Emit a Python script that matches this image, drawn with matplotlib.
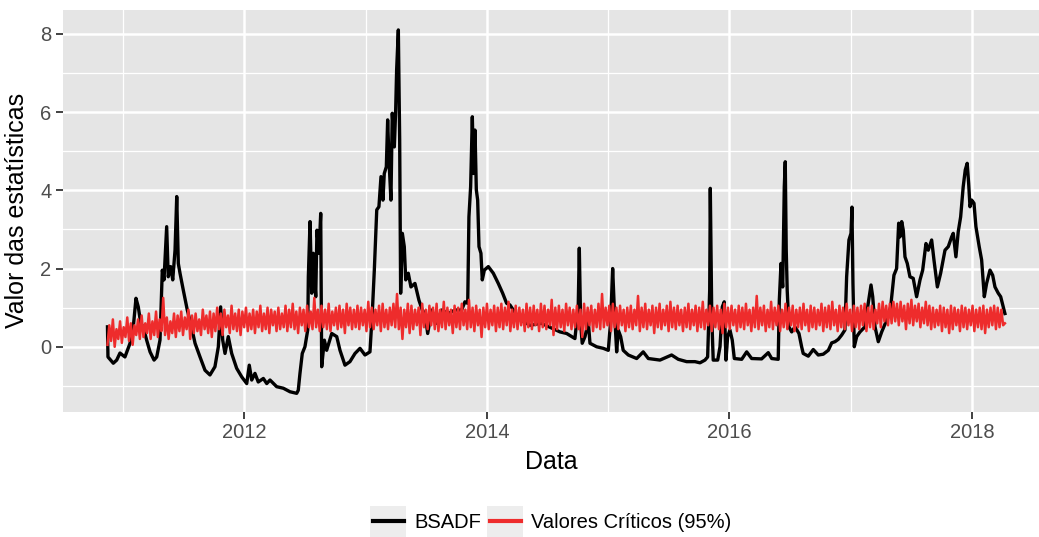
import numpy as np
import matplotlib
matplotlib.use("Agg")
import matplotlib.pyplot as plt
from matplotlib.patches import Rectangle

plt.rcParams['font.family'] = ['Liberation Sans', 'DejaVu Sans']

# BSADF statistic (decimal year, value)
bsadf_t = [
    2010.872, 2010.876, 2010.920, 2010.948, 2010.975, 2011.016, 2011.058, 2011.085, 2011.107, 2011.126,
    2011.146, 2011.167, 2011.195, 2011.223, 2011.256, 2011.278, 2011.305, 2011.324, 2011.338, 2011.360,
    2011.373, 2011.393, 2011.410, 2011.429, 2011.443, 2011.456, 2011.470, 2011.497, 2011.530, 2011.558,
    2011.594, 2011.635, 2011.676, 2011.717, 2011.758, 2011.786, 2011.805, 2011.822, 2011.841, 2011.868,
    2011.896, 2011.937, 2011.979, 2012.020, 2012.041, 2012.061, 2012.088, 2012.115, 2012.157, 2012.185,
    2012.212, 2012.267, 2012.322, 2012.377, 2012.432, 2012.445, 2012.459, 2012.478, 2012.500, 2012.523,
    2012.528, 2012.542, 2012.556, 2012.569, 2012.589, 2012.599, 2012.616, 2012.630, 2012.638, 2012.660,
    2012.679, 2012.721, 2012.762, 2012.789, 2012.830, 2012.871, 2012.913, 2012.954, 2012.995, 2013.036,
    2013.055, 2013.072, 2013.092, 2013.110, 2013.127, 2013.143, 2013.154, 2013.171, 2013.182, 2013.193,
    2013.209, 2013.220, 2013.237, 2013.248, 2013.256, 2013.270, 2013.281, 2013.289, 2013.303, 2013.319,
    2013.331, 2013.352, 2013.374, 2013.407, 2013.440, 2013.467, 2013.490, 2013.512, 2013.545, 2013.586,
    2013.627, 2013.682, 2013.737, 2013.792, 2013.819, 2013.842, 2013.852, 2013.866, 2013.880, 2013.891,
    2013.902, 2013.913, 2013.924, 2013.935, 2013.951, 2013.962, 2013.979, 2014.012, 2014.053, 2014.094,
    2014.130, 2014.163, 2014.190, 2014.218, 2014.273, 2014.355, 2014.450, 2014.520, 2014.603, 2014.658,
    2014.726, 2014.753, 2014.762, 2014.773, 2014.786, 2014.809, 2014.836, 2014.850, 2014.905, 2014.960,
    2015.001, 2015.021, 2015.037, 2015.050, 2015.070, 2015.083, 2015.103, 2015.124, 2015.166, 2015.235,
    2015.289, 2015.331, 2015.427, 2015.523, 2015.578, 2015.647, 2015.716, 2015.757, 2015.798, 2015.820,
    2015.825, 2015.837, 2015.842, 2015.854, 2015.866, 2015.903, 2015.922, 2015.941, 2015.957, 2015.971,
    2015.985, 2016.004, 2016.023, 2016.040, 2016.101, 2016.142, 2016.183, 2016.265, 2016.320, 2016.348,
    2016.402, 2016.411, 2016.425, 2016.439, 2016.452, 2016.460, 2016.468, 2016.476, 2016.490, 2016.513,
    2016.540, 2016.573, 2016.595, 2016.608, 2016.650, 2016.691, 2016.732, 2016.773, 2016.815, 2016.843,
    2016.870, 2016.897, 2016.925, 2016.952, 2016.966, 2016.985, 2017.002, 2017.010, 2017.018, 2017.029,
    2017.049, 2017.076, 2017.117, 2017.144, 2017.167, 2017.181, 2017.200, 2017.227, 2017.255, 2017.296,
    2017.329, 2017.356, 2017.378, 2017.395, 2017.406, 2017.420, 2017.433, 2017.447, 2017.466, 2017.488,
    2017.515, 2017.543, 2017.571, 2017.593, 2017.620, 2017.639, 2017.667, 2017.686, 2017.714, 2017.741,
    2017.777, 2017.804, 2017.832, 2017.845, 2017.867, 2017.886, 2017.906, 2017.927, 2017.944, 2017.960,
    2017.972, 2017.983, 2017.997, 2018.016, 2018.032, 2018.059, 2018.079, 2018.101, 2018.120, 2018.148,
    2018.170, 2018.189, 2018.216, 2018.236, 2018.257, 2018.271,
]
bsadf_v = [
    0.51, -0.26, -0.42, -0.34, -0.16, -0.26, 0.09, 0.51, 1.24, 1.02,
    0.60, 0.51, 0.17, -0.13, -0.34, -0.26, 0.17, 1.96, 1.71, 3.07,
    1.79, 2.05, 1.71, 2.47, 3.84, 2.13, 1.88, 1.45, 0.94, 0.60,
    0.09, -0.26, -0.60, -0.72, -0.51, 0.00, 1.02, 0.17, -0.17, 0.26,
    -0.17, -0.55, -0.77, -0.94, -0.47, -0.85, -0.68, -0.90, -0.81, -0.94,
    -0.85, -1.02, -1.06, -1.15, -1.19, -1.11, -0.68, -0.17, 0.00, 0.43,
    1.79, 3.20, 1.37, 2.39, 1.28, 2.98, 2.39, 3.41, -0.51, 0.17,
    -0.09, 0.34, 0.26, -0.09, -0.47, -0.38, -0.17, -0.04, -0.21, -0.13,
    0.85, 1.96, 3.50, 3.58, 4.35, 3.75, 4.43, 4.60, 5.80, 4.77,
    3.75, 5.97, 5.11, 6.05, 7.08, 8.10, 5.29, 1.37, 2.90, 2.56,
    1.71, 1.88, 1.53, 1.62, 1.19, 0.94, 0.85, 0.34, 0.94, 0.60,
    0.94, 0.85, 0.94, 0.94, 1.15, 1.11, 3.32, 4.09, 5.88, 4.43,
    5.54, 4.01, 3.75, 2.56, 2.39, 1.71, 1.96, 2.05, 1.88, 1.62,
    1.37, 1.11, 1.07, 0.94, 0.70, 0.55, 0.60, 0.50, 0.38, 0.34,
    0.21, 1.02, 2.52, 0.60, 0.09, 0.26, 0.64, 0.09, 0.00, -0.04,
    -0.09, 0.68, 2.00, 1.02, -0.13, 0.43, 0.26, -0.09, -0.21, -0.30,
    -0.13, -0.30, -0.34, -0.21, -0.32, -0.38, -0.38, -0.41, -0.34, -0.26,
    0.26, 1.45, 4.05, 0.77, -0.34, -0.34, 0.00, 1.02, 1.15, -0.34,
    0.26, 0.43, 0.17, -0.30, -0.32, -0.13, -0.30, -0.31, -0.15, -0.30,
    -0.32, 1.19, 2.13, 1.53, 4.09, 4.73, 2.47, 1.45, 0.51, 0.38,
    0.51, 0.34, 0.00, -0.17, -0.24, -0.07, -0.21, -0.19, -0.09, 0.10,
    0.13, 0.19, 0.30, 0.43, 1.79, 2.73, 2.90, 3.57, 1.62, 0.00,
    0.26, 0.38, 0.51, 1.11, 1.58, 1.28, 0.51, 0.13, 0.38, 0.68,
    1.02, 1.83, 2.00, 3.16, 2.81, 3.20, 2.98, 2.30, 2.13, 1.79,
    1.75, 1.28, 1.71, 1.96, 2.64, 2.47, 2.73, 2.22, 1.53, 1.88,
    2.47, 2.56, 2.81, 2.90, 2.30, 2.94, 3.32, 4.09, 4.52, 4.69,
    4.18, 3.58, 3.75, 3.67, 3.07, 2.56, 2.22, 1.28, 1.62, 1.96,
    1.83, 1.53, 1.37, 1.28, 1.02, 0.85,
]

# critical values (95%), one value per step between the first and last date
crit_v = [
    0.05, 0.55, 0.15, 0.70, 0.00, 0.45, 0.20, 0.65, 0.10, 0.50, 0.25, 0.75, 0.15, 0.60, 0.05, 0.55, 0.30, 0.70, 0.20, 0.80,
    0.25, 0.60, 0.35, 0.85, 0.20, 0.65, 0.30, 0.90, 0.25, 0.70, 0.40, 1.25, 0.30, 0.75, 0.20, 0.65, 0.35, 0.85, 0.25, 0.80,
    0.40, 0.90, 0.30, 0.75, 0.45, 0.95, 0.20, 0.80, 0.35, 0.85, 0.40, 0.70, 0.30, 0.95, 0.45, 0.80, 0.35, 0.90, 0.25, 0.85,
    0.40, 1.00, 0.45, 0.85, 0.30, 0.95, 0.50, 0.80, 0.35, 1.05, 0.45, 0.85, 0.40, 0.95, 0.30, 0.90, 0.50, 1.00, 0.40, 0.85,
    0.45, 0.95, 0.35, 0.90, 0.50, 1.05, 0.40, 0.85, 0.45, 1.00, 0.35, 0.95, 0.55, 0.90, 0.40, 1.00, 0.45, 0.85, 0.50, 1.05,
    0.40, 0.95, 0.50, 1.10, 0.45, 0.90, 0.35, 1.00, 0.55, 0.95, 0.40, 1.05, 0.50, 0.90, 0.45, 1.25, 0.50, 0.95, 0.40, 1.05,
    0.50, 0.95, 0.45, 1.10, 0.40, 0.90, 0.55, 1.00, 0.45, 1.05, 0.50, 0.95, 0.35, 1.10, 0.55, 1.00, 0.45, 0.95, 0.50, 1.05,
    0.45, 1.00, 0.55, 0.95, 0.40, 1.15, 0.50, 1.00, 0.45, 0.95, 0.55, 1.05, 0.40, 1.10, 0.50, 0.95, 0.45, 1.00, 0.55, 1.10,
    0.50, 1.35, 0.45, 1.00, 0.20, 0.95, 0.50, 1.10, 0.35, 1.05, 0.45, 0.95, 0.55, 1.00, 0.30, 1.10, 0.50, 0.95, 0.45, 1.05,
    0.55, 1.00, 0.45, 1.10, 0.40, 0.95, 0.50, 1.15, 0.45, 1.00, 0.55, 0.95, 0.35, 1.05, 0.50, 1.00, 0.45, 1.10, 0.55, 0.95,
    0.45, 1.20, 0.50, 1.00, 0.40, 1.05, 0.55, 0.95, 0.25, 1.00, 0.50, 1.10, 0.45, 0.95, 0.55, 1.05, 0.40, 1.00, 0.50, 1.10,
    0.45, 1.00, 0.55, 1.15, 0.40, 0.95, 0.50, 1.05, 0.45, 1.00, 0.55, 0.95, 0.40, 1.10, 0.50, 1.00, 0.45, 1.05, 0.55, 0.95,
    0.40, 1.10, 0.50, 1.05, 0.45, 0.95, 0.55, 1.20, 0.30, 1.00, 0.45, 1.05, 0.50, 0.95, 0.40, 1.10, 0.55, 1.00, 0.45, 0.95,
    0.50, 1.05, 0.45, 0.95, 0.25, 1.10, 0.45, 1.00, 0.55, 1.05, 0.40, 0.95, 0.50, 1.10, 0.45, 1.35, 0.50, 1.00, 0.55, 1.05,
    0.40, 1.10, 0.50, 1.00, 0.45, 1.05, 0.55, 0.95, 0.40, 1.00, 0.50, 1.05, 0.45, 0.95, 0.55, 1.30, 0.40, 1.00, 0.50, 1.10,
    0.45, 0.95, 0.55, 1.05, 0.35, 1.00, 0.50, 1.10, 0.45, 0.95, 0.55, 1.05, 0.40, 1.15, 0.50, 1.00, 0.45, 1.05, 0.55, 0.95,
    0.40, 1.00, 0.50, 1.10, 0.45, 0.95, 0.55, 1.05, 0.40, 1.00, 0.50, 1.15, 0.45, 0.95, 0.55, 1.05, 0.40, 1.00, 0.50, 1.05,
    0.45, 0.95, 0.35, 1.10, 0.50, 1.00, 0.45, 1.05, 0.55, 0.95, 0.40, 1.05, 0.50, 1.00, 0.45, 1.10, 0.55, 0.95, 0.40, 1.00,
    0.50, 1.30, 0.45, 1.00, 0.55, 1.05, 0.40, 0.95, 0.50, 1.15, 0.45, 1.00, 0.55, 1.05, 0.40, 0.95, 0.50, 1.10, 0.45, 1.00,
    0.55, 1.05, 0.40, 0.95, 0.50, 1.00, 0.45, 1.10, 0.55, 0.95, 0.40, 1.05, 0.50, 1.00, 0.45, 0.95, 0.55, 1.10, 0.40, 1.00,
    0.50, 1.05, 0.45, 1.15, 0.55, 0.95, 0.40, 1.05, 0.50, 1.00, 0.45, 1.10, 0.55, 0.95, 0.40, 1.05, 0.50, 1.00, 0.45, 1.05,
    0.55, 1.10, 0.40, 1.00, 0.50, 1.05, 0.45, 0.95, 0.60, 1.10, 0.50, 1.15, 0.65, 1.05, 0.55, 1.10, 0.60, 1.15, 0.65, 1.10,
    0.55, 1.15, 0.65, 1.05, 0.45, 1.10, 0.60, 1.20, 0.55, 1.05, 0.65, 1.10, 0.50, 1.00, 0.60, 1.15, 0.55, 1.05, 0.45, 1.00,
    0.50, 0.95, 0.55, 1.05, 0.40, 1.00, 0.50, 0.95, 0.35, 1.05, 0.45, 1.00, 0.55, 0.95, 0.40, 1.05, 0.50, 1.00, 0.45, 0.95,
    0.55, 1.05, 0.40, 0.95, 0.50, 1.00, 0.45, 1.05, 0.35, 0.95, 0.50, 1.00, 0.55, 1.05, 0.45, 1.00, 0.50, 0.95, 0.55, 0.60,
]
crit_t = np.linspace(2010.872, 2018.271, len(crit_v))

series_labels = ['BSADF', 'Valores Críticos (95%)']
x_major = [2012, 2014, 2016, 2018]
y_major = [0, 2, 4, 6, 8]

fig = plt.figure(figsize=(10.39, 5.37), dpi=100)
ax = fig.add_axes([0.0606, 0.2333, 0.9394, 0.7481])
ax.set_facecolor('#E5E5E5')

l1, = ax.plot(bsadf_t, bsadf_v, color='black', lw=2.4, label=series_labels[0], zorder=3)
l2, = ax.plot(crit_t, crit_v, color='#EE2C2C', lw=1.8, label=series_labels[1], zorder=4)

ax.set_xlim(2010.505, 2018.552)
ax.set_ylim(-1.66, 8.61)
ax.set_xticks(x_major)
ax.set_xticklabels([str(x) for x in x_major])
ax.set_yticks(y_major)
ax.set_xticks([2011, 2013, 2015, 2017], minor=True)
ax.set_yticks([-1, 1, 3, 5, 7], minor=True)
ax.grid(which='major', color='white', lw=1.8, zorder=0)
ax.grid(which='minor', color='white', lw=0.9, zorder=0)
ax.set_axisbelow(True)
for s in ax.spines.values():
    s.set_visible(False)
ax.tick_params(which='major', length=4.7, width=1.3, color='#333333',
               labelsize=14.5, labelcolor='#4D4D4D', pad=3.5)
ax.tick_params(which='minor', length=0)

ax.set_xlabel('Data', fontsize=18, labelpad=6)
ax.set_ylabel('Valor das estatísticas', fontsize=18, labelpad=8)

leg = fig.legend(handles=[l1, l2], loc='center', bbox_to_anchor=(552 / 1039, 1 - 523 / 537),
                 ncol=2, frameon=False, fontsize=14.5, handlelength=1.55,
                 handletextpad=0.5, columnspacing=0.45, borderaxespad=0)
for h in leg.legend_handles:
    h.set_linewidth(3.0)

# grey key boxes behind the legend lines, as ggplot draws them
fig.canvas.draw()
r = fig.canvas.get_renderer()
for h in leg.legend_handles:
    bb = h.get_window_extent(r)
    cx = (bb.x0 + bb.x1) / 2
    cy = (bb.y0 + bb.y1) / 2
    w, hgt = 36, 31
    rect = Rectangle(((cx - w / 2) / fig.bbox.width, (cy - hgt / 2) / fig.bbox.height),
                     w / fig.bbox.width, hgt / fig.bbox.height,
                     transform=fig.transFigure, facecolor='#EDEDED', edgecolor='none', zorder=-1)
    fig.patches.append(rect)

fig.savefig('out.png', dpi=100)
